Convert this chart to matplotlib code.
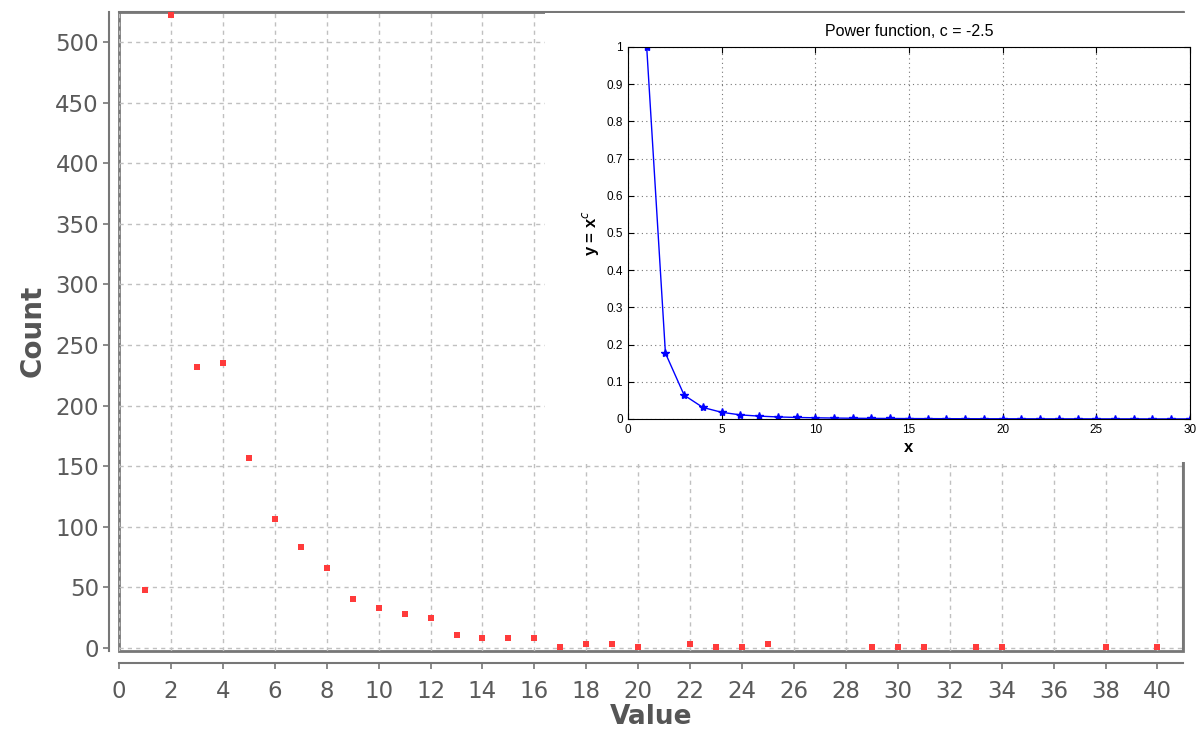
import matplotlib.pyplot as plt
from matplotlib.patches import Rectangle

# main scatter: value -> count
values = [1, 2, 3, 4, 5, 6, 7, 8, 9, 10, 11, 12, 13, 14, 15, 16, 17, 18, 19, 20,
          22, 23, 24, 25, 29, 30, 31, 33, 34, 38, 40]
counts = [48, 522, 232, 235, 157, 106, 83, 66, 40, 33, 28, 25, 11, 8, 8, 8, 1, 3, 3, 1,
          3, 1, 1, 3, 1, 1, 1, 1, 1, 1, 1]

# inset: power function c = -2.5
px = list(range(1, 31))
py = [1.0, 0.177, 0.064, 0.031, 0.018, 0.011, 0.0077, 0.0055, 0.0041, 0.0032,
      0.0025, 0.0020, 0.0016, 0.0014, 0.0011, 0.0010, 0.0008, 0.0007, 0.0006, 0.0006,
      0.0005, 0.0004, 0.0004, 0.0004, 0.0003, 0.0003, 0.0003, 0.0002, 0.0002, 0.0002]

fig = plt.figure(figsize=(12, 7.33), dpi=100)

ax = fig.add_axes([0.0992, 0.112, 0.887, 0.872])
ax.scatter(values, counts, marker='s', s=24, color='#ff3b3b', zorder=3, linewidths=0)
ax.set_xlim(0, 41)
ax.set_ylim(-2.5, 525)
ax.set_xticks(range(0, 41, 2))
ax.set_yticks(range(0, 501, 50))
ax.grid(True, color='#c0c0c0', linestyle=(0, (3, 3)), linewidth=1)
ax.set_axisbelow(True)
for s in ['top', 'right']:
    ax.spines[s].set_color('#777777')
    ax.spines[s].set_linewidth(1.5)
ax.spines['left'].set_position(('outward', 7))
ax.spines['bottom'].set_position(('outward', 9))
ax.spines['left'].set_color('#777777')
ax.spines['bottom'].set_color('#777777')
ax.spines['left'].set_linewidth(1.5)
ax.spines['bottom'].set_linewidth(1.5)
ax.patch.set_edgecolor('#777777')
ax.patch.set_linewidth(2)
ax.tick_params(colors='#777777', labelcolor='#5a5a5a', labelsize=16.5, length=4, width=1.2)
ax.tick_params(axis='x', pad=8)
ax.set_xlabel('Value', fontsize=19, fontweight='bold', color='#555555', labelpad=1)
ax.set_ylabel('Count', fontsize=20, fontweight='bold', color='#555555', labelpad=6)

# white panel behind the inset
fig.patches.append(Rectangle((0.454, 0.370), 0.546, 0.612, transform=fig.transFigure,
                             facecolor='white', edgecolor='none', zorder=5))

ins = fig.add_axes([0.5233, 0.4284, 0.4683, 0.5075], zorder=6)
ins.plot(px, py, color='blue', linewidth=1, marker='*', markersize=6)
ins.set_xlim(0, 30)
ins.set_ylim(0, 1)
ins.set_xticks(range(0, 31, 5))
ins.set_yticks([0, 0.1, 0.2, 0.3, 0.4, 0.5, 0.6, 0.7, 0.8, 0.9, 1])
ins.set_yticklabels(['0', '0.1', '0.2', '0.3', '0.4', '0.5', '0.6', '0.7', '0.8', '0.9', '1'])
ins.grid(True, color='#777777', linestyle=(0, (1, 3)), linewidth=0.8)
ins.tick_params(direction='in', top=True, right=True, labelsize=8.5, length=4,
                labelfontfamily='Liberation Sans')
for s in ins.spines.values():
    s.set_linewidth(0.8)
ins.set_title('Power function, c = -2.5', fontsize=11.5, family='Liberation Sans', pad=8)
ins.set_xlabel('x', fontsize=12, fontweight='bold', family='Liberation Sans', labelpad=3)
ins.set_ylabel('y = x$^c$', fontsize=12, fontweight='bold', family='Liberation Sans', labelpad=4)

fig.savefig('out.png', dpi=100)
